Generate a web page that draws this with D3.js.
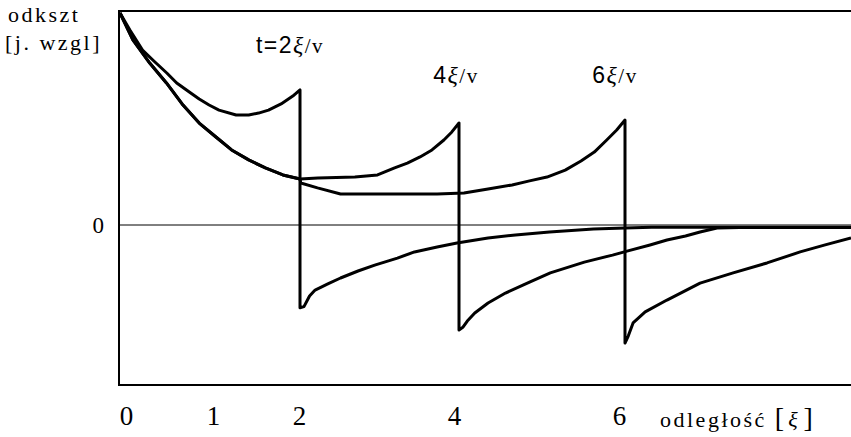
<!DOCTYPE html>
<html><head><meta charset="utf-8">
<script src="https://cdn.jsdelivr.net/npm/d3@7"></script>
<style>body{margin:0;background:#fff}svg{display:block}</style>
</head><body>
<script>
// ---- data (x in units of ξ, y = relative strain) ----
const xTicks = [0, 1, 2, 4, 6];
const yTicks = [0];
const curveLabels = ["t=2", "4", "6"];
const jumpAt = [2, 4, 6];

const curveA_x = [0,0.11,0.25,0.385,0.52,0.63,0.77,0.88,0.99,1.10,1.29,1.43,1.54,1.65,1.79,1.92,2.0,
  2.0,2.05,2.12,2.19,2.35,2.51,2.73,2.94,3.225,3.44,3.725,3.975,4.35,4.68,5.09,5.62,6.0,6.33,8.8];
const curveA_y = [1.0,0.92,0.825,0.77,0.717,0.67,0.627,0.594,0.566,0.542,0.519,0.519,0.528,0.542,0.571,0.608,0.637,
  -0.39,-0.385,-0.335,-0.307,-0.278,-0.25,-0.217,-0.189,-0.156,-0.127,-0.104,-0.085,-0.061,-0.047,-0.033,-0.019,-0.014,-0.011,-0.011];

const curveB_x = [0,0.143,0.33,0.516,0.69,0.88,1.066,1.24,1.43,1.615,1.81,2.0,2.225,2.69,2.975,3.19,3.35,3.51,3.66,3.81,3.91,4.0,
  4.0,4.05,4.1,4.19,4.35,4.56,4.85,5.1,5.51,5.85,6.025,6.31,6.52,6.75,6.93,7.14,7.42,8.8];
const curveB_y = [1.0,0.873,0.764,0.67,0.571,0.481,0.415,0.354,0.307,0.269,0.236,0.217,0.222,0.226,0.236,0.269,0.292,0.321,0.354,0.401,0.439,0.481,
  -0.495,-0.481,-0.453,-0.415,-0.368,-0.321,-0.269,-0.226,-0.175,-0.142,-0.123,-0.094,-0.071,-0.052,-0.033,-0.014,-0.012,-0.012];

const curveC_x = [0,0.143,0.33,0.516,0.69,0.88,1.066,1.24,1.43,1.615,1.81,2.0,2.01,2.22,2.51,2.725,3.725,4.06,4.35,4.64,4.85,5.06,5.28,5.47,5.63,5.78,5.9,6.0,
  6.0,6.04,6.1,6.25,6.52,6.93,7.34,7.76,8.17,8.48,8.8];
const curveC_y = [1.0,0.873,0.764,0.67,0.571,0.481,0.415,0.354,0.307,0.269,0.236,0.217,0.198,0.175,0.146,0.146,0.146,0.151,0.17,0.189,0.208,0.226,0.259,0.302,0.344,0.401,0.448,0.495,
  -0.557,-0.524,-0.462,-0.41,-0.354,-0.274,-0.226,-0.179,-0.127,-0.094,-0.061];

// ---- layout ----
const W = 851, H = 437;
const svg = d3.select("body").append("svg").attr("width", W).attr("height", H);

const x = d3.scaleLinear().domain([0, 2, 4, 6, 8.8]).range([120, 300, 459, 625, 851]);
const y = d3.scaleLinear().domain([-0.75, 1]).range([384, 13]);
const yTop = 1.01, yBot = -0.755;
const xLabelScale = d3.scaleLinear().domain([0, 1, 2, 4, 6]).range([126, 213, 299, 454, 619]);

const serif = "'Liberation Serif','DejaVu Serif',serif";
const sans = "'Liberation Sans',Arial,sans-serif";

// frame (left, top, bottom)
const g = svg.append("g");
g.append("path")
  .attr("d", `M${x(8.8)},${y(yTop)}H${x(0)-1}V${y(yBot)}H${x(8.8)}`)
  .attr("fill", "none").attr("stroke", "#000").attr("stroke-width", 2);

// zero line
g.append("line").attr("x1", x(0)).attr("x2", x(8.8)).attr("y1", y(0)).attr("y2", y(0))
  .attr("stroke", "#000").attr("stroke-width", 1);

// curves
const line = d3.line().x(d => x(d[0])).y(d => y(d[1])).curve(d3.curveLinear);
[[curveA_x, curveA_y], [curveB_x, curveB_y], [curveC_x, curveC_y]].forEach(([xs, ys]) => {
  g.append("path").datum(xs.map((v, i) => [v, ys[i]])).attr("d", line)
    .attr("fill", "none").attr("stroke", "#000").attr("stroke-width", 3)
    .attr("stroke-linejoin", "round");
});

// x axis labels
const xAxis = d3.axisBottom(xLabelScale).tickValues(xTicks).tickFormat(d3.format("d")).tickSize(0).tickPadding(0);
const xa = svg.append("g").attr("transform", `translate(0,${y(yBot) + 21})`).call(xAxis);
xa.select(".domain").remove();
xa.selectAll("text").attr("font-family", serif).attr("font-size", 27).attr("fill", "#000");

// y axis label "0"
const yAxis = d3.axisLeft(y).tickValues(yTicks).tickFormat(d3.format("d")).tickSize(0).tickPadding(16);
const ya = svg.append("g").attr("transform", `translate(${x(0)},0)`).call(yAxis);
ya.select(".domain").remove();
ya.selectAll("text").attr("font-family", serif).attr("font-size", 23).attr("fill", "#000");

// axis titles
svg.append("text").attr("x", 8).attr("y", 22).attr("font-family", serif).attr("font-size", 22)
  .attr("letter-spacing", 2.5).text("odkszt");
svg.append("text").attr("x", 5).attr("y", 50).attr("font-family", serif).attr("font-size", 22)
  .attr("letter-spacing", 2.5).text("[j. wzgl]");

const xt = svg.append("text").attr("x", 660).attr("y", 427).attr("font-family", serif).attr("font-size", 22);
xt.append("tspan").attr("letter-spacing", 2.5).text("odległość");
xt.append("tspan").attr("dx", 8).attr("font-size", 28).text("[");
xt.append("tspan").attr("dx", 4).attr("font-size", 22).attr("font-style", "italic").text("ξ");
xt.append("tspan").attr("dx", 6).attr("font-size", 28).text("]");

// curve labels
const labelDX = [-10, -3, -10];
const labelY = [0.81, 0.67, 0.67];
curveLabels.forEach((t, i) => {
  const tx = svg.append("text").attr("x", x(jumpAt[i]) + labelDX[i]).attr("y", y(labelY[i]))
    .attr("text-anchor", "middle").attr("letter-spacing", 1.5)
    .attr("font-family", sans).attr("font-size", 23).attr("fill", "#000");
  tx.append("tspan").text(t);
  tx.append("tspan").attr("font-family", serif).attr("font-style", "italic").attr("font-size", 24).text("ξ");
  tx.append("tspan").attr("font-family", serif).attr("font-size", 21).text("/v");
});
</script>
</body></html>
